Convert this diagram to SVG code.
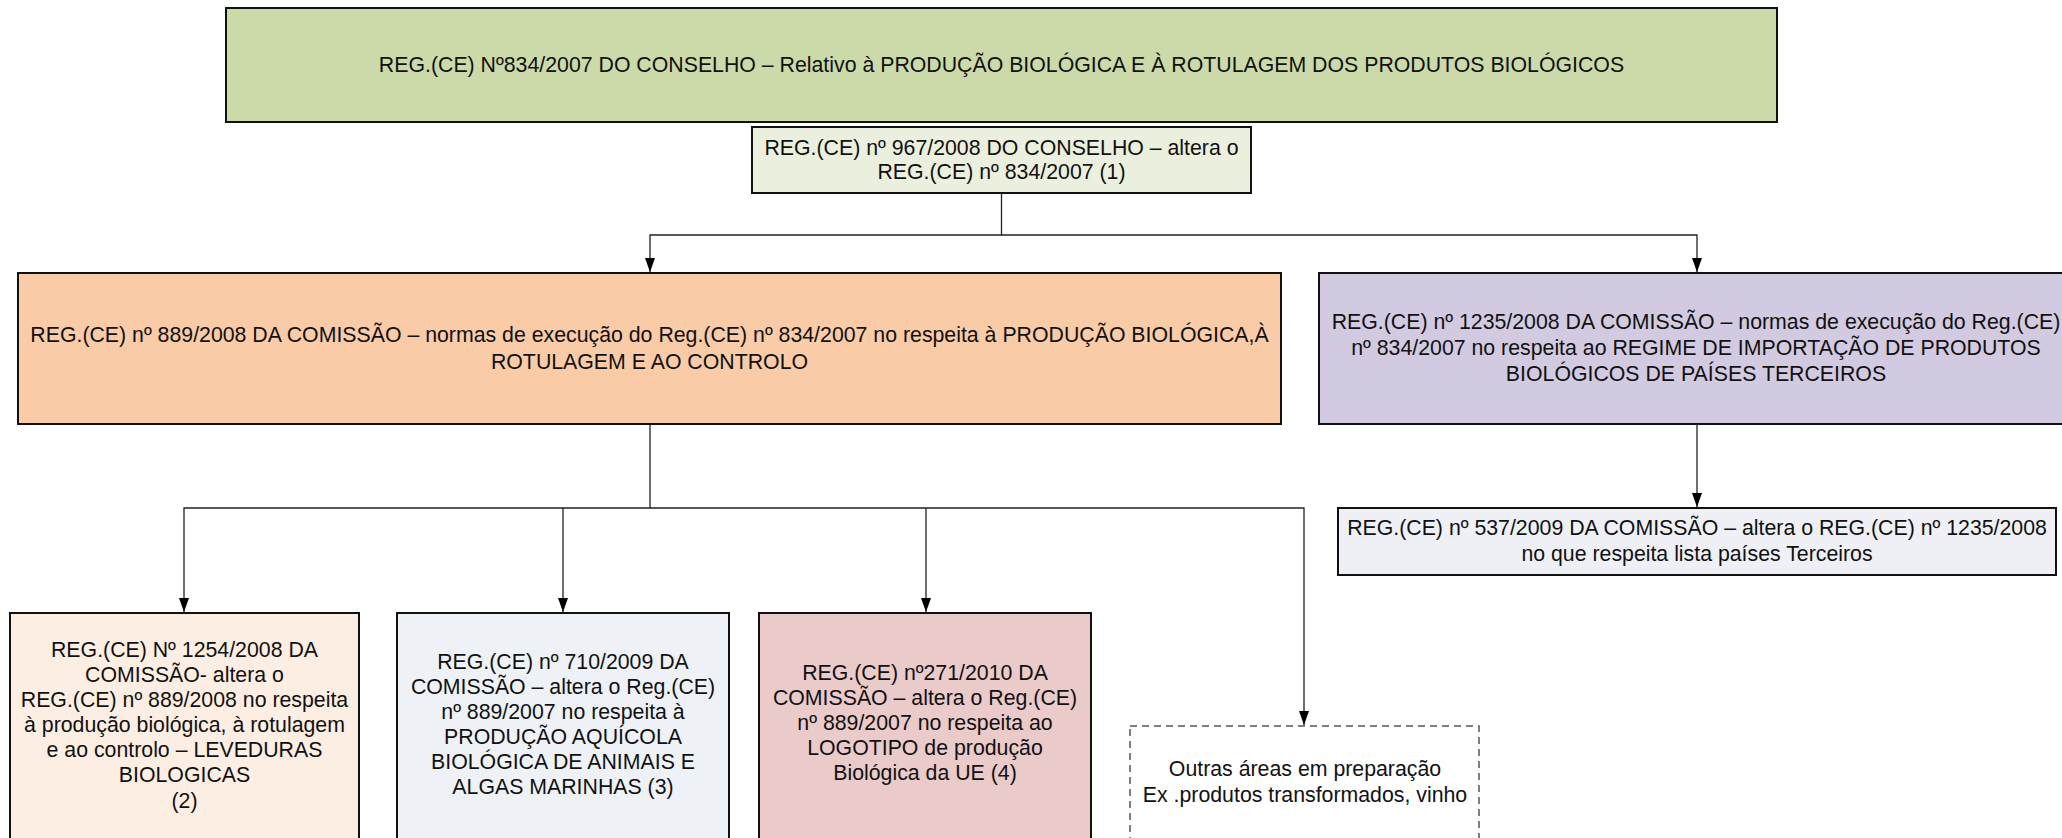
<svg xmlns="http://www.w3.org/2000/svg" width="2062" height="838" viewBox="0 0 2062 838">
<defs>
<style>
.box{stroke:#111;stroke-width:2}
.dash{fill:#fff;stroke:#555;stroke-width:1.5;stroke-dasharray:7 5}
.t{font-family:"Liberation Sans",Arial,sans-serif;font-size:21.3px;fill:#111;text-anchor:middle}
.c{fill:none;stroke:#222;stroke-width:1.3}
</style>
<marker id="ah" viewBox="0 0 14 10" refX="14" refY="5" markerWidth="14" markerHeight="10" markerUnits="userSpaceOnUse" orient="auto">
<path d="M0,0 L14,5 L0,10 z" fill="#000"/>
</marker>
</defs>
<rect width="2062" height="838" fill="#fff"/>
<g id="connectors">
<path class="c" d="M1001.5,193 V235 H650 V272" marker-end="url(#ah)"/>
<path class="c" d="M1001.5,235 H1697 V272" marker-end="url(#ah)"/>
<path class="c" d="M1697,424 V507" marker-end="url(#ah)"/>
<path class="c" d="M650,424 V508 H184 V612" marker-end="url(#ah)"/>
<path class="c" d="M563,508 V612" marker-end="url(#ah)"/>
<path class="c" d="M926,508 V612" marker-end="url(#ah)"/>
<path class="c" d="M650,508 H1304 V725" marker-end="url(#ah)"/>
</g>
<g id="n834">
<rect class="box" x="226" y="8" width="1551" height="114" fill="#CCDAA9"/>
<text class="t" x="1001.5" y="72">REG.(CE) Nº834/2007 DO CONSELHO – Relativo à PRODUÇÃO BIOLÓGICA E À ROTULAGEM DOS PRODUTOS BIOLÓGICOS</text>
</g>
<g id="n967">
<rect class="box" x="752" y="127" width="499" height="66" fill="#EBF0DE"/>
<text class="t" x="1001.5" y="155">REG.(CE) nº 967/2008 DO CONSELHO – altera o</text>
<text class="t" x="1001.5" y="179">REG.(CE) nº 834/2007 (1)</text>
</g>
<g id="n889">
<rect class="box" x="18" y="273" width="1263" height="151" fill="#F9CBA7"/>
<text class="t" x="649.5" y="342">REG.(CE) nº 889/2008 DA COMISSÃO – normas de execução do Reg.(CE) nº 834/2007 no respeita à PRODUÇÃO BIOLÓGICA,À</text>
<text class="t" x="649.5" y="369">ROTULAGEM E AO CONTROLO</text>
</g>
<g id="n1235">
<rect class="box" x="1319" y="273" width="750" height="151" fill="#D2CAE0"/>
<text class="t" x="1696" y="329">REG.(CE) nº 1235/2008 DA COMISSÃO – normas de execução do Reg.(CE)</text>
<text class="t" x="1696" y="355">nº 834/2007 no respeita ao REGIME DE IMPORTAÇÃO DE PRODUTOS</text>
<text class="t" x="1696" y="381">BIOLÓGICOS DE PAÍSES TERCEIROS</text>
</g>
<g id="n537">
<rect class="box" x="1338" y="508" width="718" height="67" fill="#EEF0F5"/>
<text class="t" x="1697" y="535">REG.(CE) nº 537/2009 DA COMISSÃO – altera o REG.(CE) nº 1235/2008</text>
<text class="t" x="1697" y="561">no que respeita lista países Terceiros</text>
</g>
<g id="n1254">
<rect class="box" x="10" y="613" width="349" height="240" fill="#FDEEE3"/>
<text class="t" x="184.5" y="657">REG.(CE) Nº 1254/2008 DA</text>
<text class="t" x="184.5" y="682">COMISSÃO- altera o</text>
<text class="t" x="184.5" y="707">REG.(CE) nº 889/2008 no respeita</text>
<text class="t" x="184.5" y="732">à produção biológica, à rotulagem</text>
<text class="t" x="184.5" y="757">e ao controlo – LEVEDURAS</text>
<text class="t" x="184.5" y="782">BIOLOGICAS</text>
<text class="t" x="184.5" y="808">(2)</text>
</g>
<g id="n710">
<rect class="box" x="397" y="613" width="332" height="240" fill="#EEF1F6"/>
<text class="t" x="563" y="669">REG.(CE) nº 710/2009 DA</text>
<text class="t" x="563" y="694">COMISSÃO – altera o Reg.(CE)</text>
<text class="t" x="563" y="719">nº 889/2007 no respeita à</text>
<text class="t" x="563" y="744">PRODUÇÃO AQUÍCOLA</text>
<text class="t" x="563" y="769">BIOLÓGICA DE ANIMAIS E</text>
<text class="t" x="563" y="794">ALGAS MARINHAS (3)</text>
</g>
<g id="n271">
<rect class="box" x="759" y="613" width="332" height="240" fill="#EBCACA"/>
<text class="t" x="925" y="680">REG.(CE) nº271/2010 DA</text>
<text class="t" x="925" y="705">COMISSÃO – altera o Reg.(CE)</text>
<text class="t" x="925" y="730">nº 889/2007 no respeita ao</text>
<text class="t" x="925" y="755">LOGOTIPO de produção</text>
<text class="t" x="925" y="780">Biológica da UE (4)</text>
</g>
<g id="nOutras">
<rect class="dash" x="1130" y="726" width="349" height="130"/>
<text class="t" x="1305" y="776">Outras áreas em preparação</text>
<text class="t" x="1305" y="802">Ex .produtos transformados, vinho</text>
</g>
</svg>
